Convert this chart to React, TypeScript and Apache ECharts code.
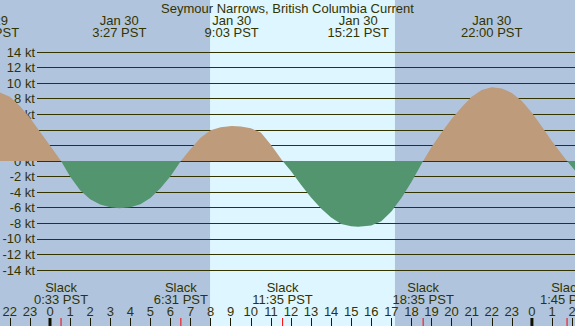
import React, { useEffect, useRef } from "react";
import * as echarts from "echarts";

const TITLE = "Seymour Narrows, British Columbia Current";

// hours relative to Jan 30 00:00 PST, current speed in knots (flood +, ebb -)
const currentHours = [
  -2.5, -2.0, -1.5, -1.0, -0.5, 0, 0.55,
  1.0, 1.5, 2.0, 2.5, 3.0, 3.45, 4.0, 4.5, 5.0, 5.5, 6.0, 6.517,
  7.0, 7.5, 8.0, 8.5, 9.05, 9.5, 10.0, 10.5, 11.0, 11.583,
  12.0, 12.5, 13.0, 13.5, 14.0, 14.5, 15.0, 15.35, 16.0, 16.5, 17.0, 17.5, 18.0, 18.583,
  19.0, 19.5, 20.0, 20.5, 21.0, 21.5, 22.0, 22.5, 23.0, 23.5, 24.0, 24.5, 25.0, 25.5, 25.75, 26.2,
];
const currentKnots = [
  8.8, 8.25, 7.05, 5.55, 3.75, 2.0, 0,
  -2.0, -3.75, -4.9, -5.6, -5.95, -6.07, -5.95, -5.55, -4.75, -3.5, -1.95, 0,
  1.55, 3.0, 3.95, 4.35, 4.5, 4.42, 4.2, 3.65, 2.1, 0,
  -1.3, -3.05, -4.7, -6.1, -7.25, -8.1, -8.38, -8.45, -8.3, -7.75, -6.5, -4.75, -2.7, 0,
  1.8, 3.65, 5.4, 6.9, 8.25, 9.13, 9.46, 9.3, 8.75, 7.7, 6.2, 4.4, 2.55, 0.85, 0, -1.4,
];

const maxHours = [-3.07, 3.45, 9.05, 15.35, 22.0];
const maxDates = ["Jan 29", "Jan 30", "Jan 30", "Jan 30", "Jan 30"];
const maxTimes = ["20:56 PST", "3:27 PST", "9:03 PST", "15:21 PST", "22:00 PST"];

const slackHours = [0.55, 6.517, 11.583, 18.583, 25.75];
const slackTimes = ["0:33 PST", "6:31 PST", "11:35 PST", "18:35 PST", "1:45 PST"];

const midnightHours = [0, 24];
const sunriseHour = 7.97;
const sunsetHour = 17.18;

const NIGHT = "#b0c4de";
const DAY = "#ddf6ff";
const FLOOD = "#bd9b7b";
const EBB = "#53956f";
const TEXT = "#333300";
const GRIDLINE = "#333300";
const TICK = "#1a1a00";
const FAMILY = '"Liberation Sans", Arial, sans-serif';
const FONT = "13px " + FAMILY;

const X_MIN = -3;
const X_MAX = 27;
const GL = -10.24;
const GR = -17.16;

export default function App() {
  const ref = useRef<HTMLDivElement>(null);
  useEffect(() => {
    const chart = echarts.init(ref.current!, null, { renderer: "svg" });
    const flood = currentHours.map((h, i) => [h, Math.max(currentKnots[i], 0)]);
    const ebb = currentHours.map((h, i) => [h, Math.min(currentKnots[i], 0)]);

    const option: any = {
      animation: false,
      backgroundColor: NIGHT,
      title: {
        text: TITLE,
        left: "center",
        top: 2,
        padding: 0,
        textStyle: { fontSize: 13, fontWeight: "normal", color: TEXT, fontFamily: FAMILY, lineHeight: 12 },
      },
      grid: [
        { left: GL, right: GR, top: 0, bottom: 0, containLabel: false, outerBoundsMode: "none" },
        { left: GL, right: GR, top: 52, bottom: 56, containLabel: false, outerBoundsMode: "none" },
        { left: 37, right: 0, top: 52, bottom: 56, containLabel: false, outerBoundsMode: "none" },
      ],
      xAxis: [
        {
          gridIndex: 0, type: "value", min: X_MIN, max: X_MAX, interval: 1, position: "bottom", z: 5,
          axisLine: { show: false }, splitLine: { show: false },
          axisTick: { show: true, inside: true, length: 8, lineStyle: { color: TICK, width: 1 } },
          axisLabel: {
            inside: true, margin: 8.5, color: TEXT, fontSize: 13, fontFamily: FAMILY, lineHeight: 12,
            showMinLabel: true, showMaxLabel: true,
            formatter: (v: number) => String(((Math.round(v) % 24) + 24) % 24),
          },
        },
        { gridIndex: 1, type: "value", min: X_MIN, max: X_MAX, show: false },
        { gridIndex: 2, type: "value", min: 0, max: 1, show: false },
      ],
      yAxis: [
        { gridIndex: 0, type: "value", min: 0, max: 1, show: false },
        { gridIndex: 1, type: "value", min: -14, max: 14, show: false },
        {
          gridIndex: 2, type: "value", min: -14, max: 14, interval: 2, z: 3,
          axisLine: { show: false }, axisTick: { show: false },
          splitLine: { show: true, lineStyle: { color: GRIDLINE, width: 1 } },
          axisLabel: { margin: 2, color: TEXT, fontSize: 13, fontFamily: FAMILY, formatter: "{value} kt" },
        },
      ],
      series: [
        {
          type: "custom", name: "daylight", xAxisIndex: 0, yAxisIndex: 0, z: 1, silent: true, clip: false,
          data: [[sunriseHour, sunsetHour]],
          renderItem: (params: any, api: any) => {
            const x1 = api.coord([api.value(0), 0])[0];
            const x2 = api.coord([api.value(1), 0])[0];
            const cs = params.coordSys;
            return { type: "rect", shape: { x: x1, y: cs.y, width: x2 - x1, height: cs.height }, style: { fill: DAY } };
          },
        },
        {
          type: "line", name: "flood", xAxisIndex: 1, yAxisIndex: 1, z: 4, silent: true,
          data: flood, showSymbol: false, symbol: "none", lineStyle: { width: 0 },
          areaStyle: { color: FLOOD, opacity: 1 },
        },
        {
          type: "line", name: "ebb", xAxisIndex: 1, yAxisIndex: 1, z: 4, silent: true,
          data: ebb, showSymbol: false, symbol: "none", lineStyle: { width: 0 },
          areaStyle: { color: EBB, opacity: 1 },
        },
        {
          type: "custom", name: "midnight", xAxisIndex: 0, yAxisIndex: 0, z: 6, silent: true, clip: false,
          data: midnightHours.map((h) => [h, 0]),
          renderItem: (params: any, api: any) => {
            const x = api.coord([api.value(0), 0])[0];
            const cs = params.coordSys;
            return { type: "rect", shape: { x: x - 1.5, y: cs.y + cs.height - 8, width: 3, height: 8 }, style: { fill: "#111100" } };
          },
        },
        {
          type: "custom", name: "slackTicks", xAxisIndex: 0, yAxisIndex: 0, z: 6, silent: true, clip: false,
          data: slackHours.map((h) => [h, 0]),
          renderItem: (params: any, api: any) => {
            const x = api.coord([api.value(0), 0])[0];
            const cs = params.coordSys;
            return { type: "rect", shape: { x: x - 0.5, y: cs.y + cs.height - 8, width: 1, height: 8 }, style: { fill: "#ff0000" } };
          },
        },
        {
          type: "custom", name: "maxLabels", xAxisIndex: 0, yAxisIndex: 0, z: 6, silent: true, clip: false,
          data: maxHours.map((h, i) => [h, i]),
          renderItem: (params: any, api: any) => {
            const i = api.value(1);
            const x = api.coord([api.value(0), 0])[0];
            return {
              type: "text",
              style: { text: maxDates[i] + "\n" + maxTimes[i], x, y: 14, align: "center", verticalAlign: "top", fill: TEXT, font: FONT, lineHeight: 12 },
            };
          },
        },
        {
          type: "custom", name: "slackLabels", xAxisIndex: 0, yAxisIndex: 0, z: 6, silent: true, clip: false,
          data: slackHours.map((h, i) => [h, i]),
          renderItem: (params: any, api: any) => {
            const i = api.value(1);
            const x = api.coord([api.value(0), 0])[0];
            return {
              type: "text",
              style: { text: "Slack\n" + slackTimes[i], x, y: 281.5, align: "center", verticalAlign: "top", fill: TEXT, font: FONT, lineHeight: 12 },
            };
          },
        },
      ],
    };
    chart.setOption(option);
    return () => chart.dispose();
  }, []);
  return <div ref={ref} style={{ position: "fixed", left: 0, top: 0, width: 575, height: 326 }} />;
}
